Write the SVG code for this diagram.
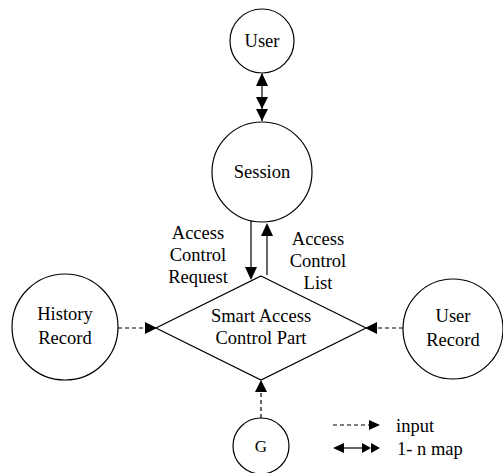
<svg xmlns="http://www.w3.org/2000/svg" width="503" height="473" viewBox="0 0 503 473">
  <style>
    .node { fill: #fff; stroke: #000; stroke-width: 1.2; }
    .lbl { font-size: 18.5px; fill: #000; text-anchor: middle; }
    .line { stroke: #000; stroke-width: 1.2; fill: none; }
    .dash { stroke: #000; stroke-width: 1.2; fill: none; stroke-dasharray: 4 3; }
    .head { fill: #000; stroke: none; }
  </style>
  <rect width="503" height="473" fill="#fff"/>

  <g id="connectors">
    <!-- User <-> Session (1-n map) -->
    <line class="line" x1="262" y1="74" x2="262" y2="121"/>
    <polygon class="head" points="262,73 256,86 268,86"/>
    <polygon class="head" points="256,97 268,97 262,109"/>
    <polygon class="head" points="256,109 268,109 262,121"/>

    <!-- Access Control Request (down) -->
    <line class="line" x1="251" y1="221" x2="251" y2="270"/>
    <polygon class="head" points="245,267 257,267 251,280"/>
    <!-- Access Control List (up) -->
    <line class="line" x1="267" y1="234" x2="267" y2="275"/>
    <polygon class="head" points="267,223 261,236 273,236"/>

    <!-- History Record -> diamond -->
    <line class="dash" x1="118" y1="328" x2="146" y2="328"/>
    <polygon class="head" points="157,328 145,322 145,334"/>
    <!-- User Record -> diamond -->
    <line class="dash" x1="403" y1="328" x2="376" y2="328"/>
    <polygon class="head" points="365,328 377,322 377,334"/>
    <!-- G -> diamond -->
    <line class="dash" x1="261" y1="418" x2="261" y2="391"/>
    <polygon class="head" points="261,380 255,392 267,392"/>

    <!-- legend -->
    <line class="dash" x1="333" y1="425" x2="370" y2="425"/>
    <polygon class="head" points="380,425 369,420 369,430"/>
    <line class="line" x1="336" y1="448" x2="364" y2="448"/>
    <polygon class="head" points="333,448 344,443 344,453"/>
    <polygon class="head" points="362,443 371,448 362,453"/>
    <polygon class="head" points="371,443 380,448 371,453"/>
  </g>

  <g font-family="'Liberation Serif', 'Times New Roman', 'DejaVu Serif', serif">
  <g id="user">
    <circle class="node" cx="262" cy="41" r="32"/>
    <text class="lbl" x="262" y="47">User</text>
  </g>

  <g id="session">
    <circle class="node" cx="262" cy="172" r="50"/>
    <text class="lbl" x="262" y="178">Session</text>
  </g>

  <g id="smart-access-control-part">
    <polygon class="node" points="261,276 366,328 261,380 156,328"/>
    <text class="lbl" x="261" y="322">Smart Access</text>
    <text class="lbl" x="261" y="344">Control Part</text>
  </g>

  <g id="history-record">
    <circle class="node" cx="65" cy="327" r="53"/>
    <text class="lbl" x="65" y="320">History</text>
    <text class="lbl" x="65" y="344">Record</text>
  </g>

  <g id="user-record">
    <circle class="node" cx="453" cy="329" r="50"/>
    <text class="lbl" x="453" y="322">User</text>
    <text class="lbl" x="453" y="346">Record</text>
  </g>

  <g id="g">
    <circle class="node" cx="261" cy="446" r="28"/>
    <text class="lbl" x="261" y="452" style="font-size:17px">G</text>
  </g>

  <g id="edge-labels">
    <text class="lbl" x="198" y="239">Access</text>
    <text class="lbl" x="198" y="261">Control</text>
    <text class="lbl" x="198" y="283">Request</text>
    <text class="lbl" x="318" y="245">Access</text>
    <text class="lbl" x="318" y="267">Control</text>
    <text class="lbl" x="318" y="289">List</text>
  </g>

  <g id="legend">
    <text class="lbl" x="396" y="432" style="text-anchor:start">input</text>
    <text class="lbl" x="397" y="455" style="text-anchor:start">1- n map</text>
  </g>
  </g>
</svg>
